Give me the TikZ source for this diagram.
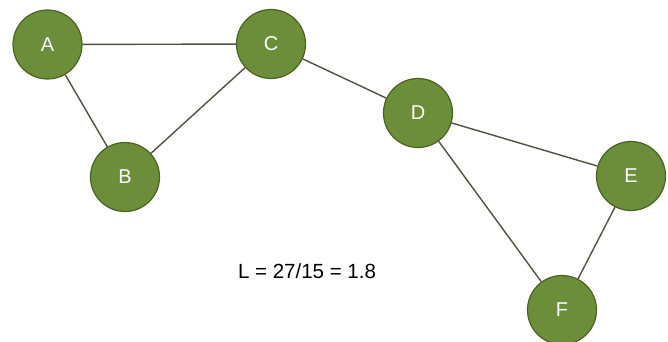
\documentclass[tikz,border=0pt]{standalone}
\usepackage{fontspec}
\setmainfont{Liberation Sans}
\begin{document}
\begin{tikzpicture}[x=1pt,y=-1pt,
  vertex/.style={circle,draw=nodeedge,fill=nodefill,line width=1.2pt,minimum size=69pt,inner sep=0pt,text=white,font=\fontsize{20}{22}\selectfont},
  link/.style={draw=linkcol,line width=1.4pt}]
\definecolor{nodefill}{HTML}{6C8D39}
\definecolor{nodeedge}{HTML}{4A6322}
\definecolor{linkcol}{HTML}{4D5340}
\useasboundingbox (0,0) rectangle (668,342);
\node[vertex] (A) at (47.5,44.5) {A};
\node[vertex] (C) at (271,44) {C};
\node[vertex] (B) at (125,177) {B};
\node[vertex] (D) at (418,113) {D};
\node[vertex] (E) at (631,176) {E};
\node[vertex] (F) at (562,310) {F};
\draw[link] (A) -- (C);
\draw[link] (A) -- (B);
\draw[link] (B) -- (C);
\draw[link] (C) -- (D);
\draw[link] (D) -- (E);
\draw[link] (D) -- (F);
\draw[link] (E) -- (F);
\node[font=\fontsize{20.5}{23}\selectfont] (L) at (307,271) {L = 27/15 = 1.8};
\end{tikzpicture}
\end{document}
